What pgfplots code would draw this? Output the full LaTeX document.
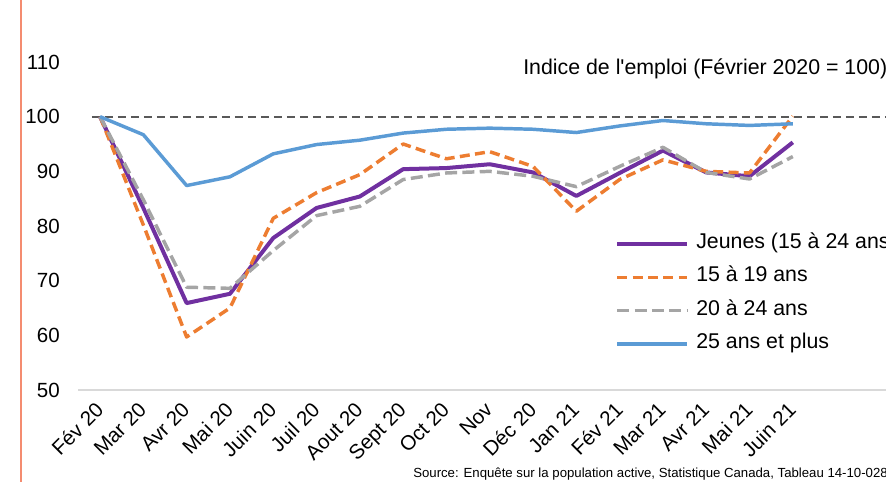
\documentclass[border=0pt]{standalone}
\usepackage{pgfplots}
\pgfplotsset{compat=1.18}
\usepackage{pgfplotstable}
\usepackage{fontspec}
\setmainfont{Liberation Sans}
\definecolor{cPurple}{RGB}{112,48,160}
\definecolor{cOrange}{RGB}{237,125,49}
\definecolor{cGray}{RGB}{165,165,165}
\definecolor{cBlue}{RGB}{91,155,213}
\definecolor{cRef}{RGB}{89,89,89}
\definecolor{cSalmon}{RGB}{244,140,112}
\definecolor{cAxis}{RGB}{217,217,217}

\pgfplotstableread{
x jeunes a1519 a2024 a25
0 100 100 100 100
1 83.3 80.2 84.8 96.7
2 65.9 59.7 68.8 87.4
3 67.6 65.0 68.6 89.0
4 77.8 81.4 75.5 93.2
5 83.3 86.1 81.9 94.9
6 85.4 89.4 83.6 95.7
7 90.4 95.0 88.5 97.0
8 90.6 92.3 89.7 97.7
9 91.3 93.6 90.0 97.9
10 89.8 90.9 89.1 97.7
11 85.5 82.7 87.2 97.1
12 89.7 88.5 90.9 98.3
13 93.8 92.1 94.4 99.3
14 89.8 90.0 89.8 98.7
15 89.1 89.7 88.6 98.4
16 95.3 100.1 92.7 98.7
}\data

\begin{document}
\begin{tikzpicture}
\useasboundingbox (0,0) rectangle (664.5pt,-361.5pt);
\clip (0,0) rectangle (664.5pt,-361.5pt);
\draw[cSalmon, line width=1.5pt] (15.75pt,0pt) -- (15.75pt,-361.5pt);
\begin{axis}[
  at={(58.8pt,-292.5pt)}, anchor=south west,
  scale only axis, width=617pt, height=307.5pt,
  xmin=-0.5, xmax=18.5, ymin=50, ymax=125,
  ytick={50,60,...,110},
  xtick={0,...,16},
  xticklabels={Fév 20, Mar 20, Avr 20, Mai 20, Juin 20, Juil 20, Aout 20, Sept 20, Oct 20, Nov, Déc 20, Jan 21, Fév 21, Mar 21, Avr 21, Mai 21, Juin 21},
  axis x line*=bottom, axis y line*=left,
  x axis line style={cAxis, line width=1.1pt},
  y axis line style={draw=none},
  major tick length=0pt,
  tick style={draw=none},
  ticklabel style={font=\fontsize{15.4}{17}\selectfont},
  /pgf/number format/assume math mode=true,
  yticklabel style={anchor=east, inner sep=0pt, xshift=-13.8pt},
  xticklabel style={xshift=-4.5pt, yshift=-8pt, rotate=45, anchor=north east, inner sep=0pt},
  legend style={at={(0.6523,0.378)}, anchor=north west, draw=none, fill=none,
    font=\fontsize{16}{18}\selectfont, row sep=12pt, inner sep=0pt,
    nodes={text height=10pt, text depth=3pt, inner sep=0pt},
    /tikz/every odd column/.append style={column sep=5.25pt}},
  legend cell align=left,
  legend image code/.code={\draw[#1] (0pt,0pt) -- (52.5pt,0pt);},
  line join=round,
]
\addplot[forget plot, cRef, line width=1.5pt, dash pattern=on 6pt off 3.75pt] coordinates {(-0.19,100) (18.5,100)};
\addplot[cPurple, line width=3pt] table[x=x, y=jeunes] {\data};
\addlegendentry{Jeunes (15 à 24 ans)}
\addplot[cOrange, line width=2.6pt, dash pattern=on 7.5pt off 4pt] table[x=x, y=a1519] {\data};
\addlegendentry{15 à 19 ans}
\addplot[cGray, line width=2.6pt, dash pattern=on 9pt off 4pt] table[x=x, y=a2024] {\data};
\addlegendentry{20 à 24 ans}
\addplot[cBlue, line width=2.6pt] table[x=x, y=a25] {\data};
\addlegendentry{25 ans et plus}
\end{axis}
\node[anchor=base west, inner sep=0pt, font=\fontsize{16}{18}\selectfont] at (392.25pt,-55.5pt) {Indice de l\textquotesingle emploi (Février 2020 = 100)};
\node[anchor=base west, inner sep=0pt, font=\fontsize{9.9}{11}\selectfont] at (309.75pt,-357.75pt) {Source: Enquête sur la population active, Statistique Canada, Tableau 14-10-0287-01};
\end{tikzpicture}
\end{document}
